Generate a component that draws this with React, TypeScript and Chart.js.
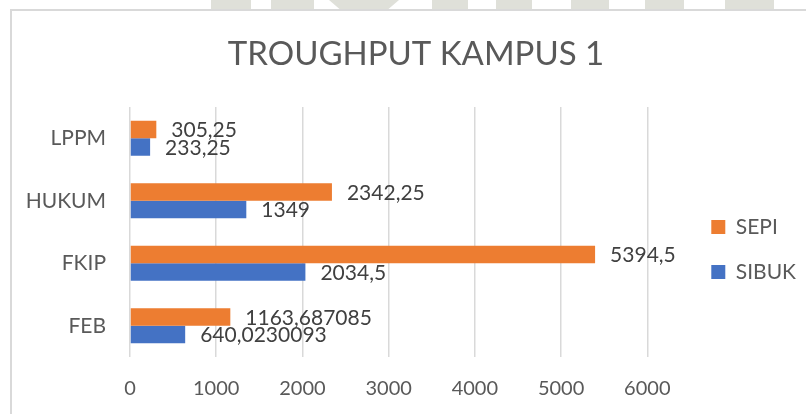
import React, { useEffect, useRef } from 'react';
import { Chart, registerables, layouts } from 'chart.js';

Chart.register(...registerables);

const titleText = 'TROUGHPUT KAMPUS 1';
const categories = ['LPPM', 'HUKUM', 'FKIP', 'FEB'];
const seriesNames = ['SEPI', 'SIBUK'];
const sepiValues = [305.25, 2342.25, 5394.5, 1163.687085];
const sibukValues = [233.25, 1349, 2034.5, 640.0230093];
const xTickValues = [0, 1000, 2000, 3000, 4000, 5000, 6000];

const ORANGE = '#ED7D31';
const BLUE = '#4472C4';
const TEXT = '#595959';
const FONT = 'Lato';

const formatValue = (v: number) => String(v).replace('.', ',');

const valueLabelPlugin = {
  id: 'valueLabels',
  afterDatasetsDraw(chart: any) {
    const ctx = chart.ctx;
    ctx.save();
    ctx.font = `21px ${FONT}`;
    ctx.fillStyle = '#404040';
    ctx.textAlign = 'left';
    ctx.textBaseline = 'middle';
    chart.data.datasets.forEach((ds: any, di: number) => {
      const meta = chart.getDatasetMeta(di);
      meta.data.forEach((bar: any, i: number) => {
        ctx.fillText(formatValue(ds.data[i]), bar.x + 15, bar.y + 1);
      });
    });
    ctx.restore();
  },
};

const legendGapPlugin = {
  id: 'legendGap',
  beforeInit(chart: any) {
    const gap: any = {
      position: 'right',
      weight: 500,
      fullSize: false,
      options: {},
      width: 0,
      height: 0,
      top: 0,
      left: 0,
      right: 0,
      bottom: 0,
      isHorizontal() {
        return false;
      },
      update(_maxWidth: number, maxHeight: number) {
        this.width = 40;
        this.height = maxHeight;
      },
      draw() {},
    };
    layouts.addBox(chart, gap);
  },
};

const watermark: Array<[number, number]> = [
  [211, 251],
  [271, 314],
  [432, 468],
  [496, 532],
  [571, 609],
  [645, 684],
  [725, 774],
];

export default function App() {
  const canvasRef = useRef<HTMLCanvasElement | null>(null);

  useEffect(() => {
    let chart: Chart | null = null;
    let cancelled = false;
    const make = () => {
      if (cancelled || !canvasRef.current) return;
      chart = new Chart(canvasRef.current, {
        type: 'bar',
        data: {
          labels: categories,
          datasets: [
            {
              label: seriesNames[0],
              data: sepiValues,
              backgroundColor: ORANGE,
              borderWidth: 0,
              categoryPercentage: 0.56,
              barPercentage: 1,
            },
            {
              label: seriesNames[1],
              data: sibukValues,
              backgroundColor: BLUE,
              borderWidth: 0,
              categoryPercentage: 0.56,
              barPercentage: 1,
            },
          ],
        },
        options: {
          indexAxis: 'y',
          responsive: false,
          animation: false,
          layout: { padding: { left: 26, right: 0, top: 0, bottom: 0 } },
          plugins: {
            title: {
              display: true,
              text: titleText,
              color: TEXT,
              font: { family: FONT, size: 33, weight: 'normal' },
              padding: { top: 34.6, bottom: 32.8 },
            },
            legend: {
              display: true,
              position: 'right',
              align: 'start',
              fullSize: false,
              title: {
                display: true,
                text: ' ',
                font: { family: FONT, size: 10 },
                padding: { top: 73.5, bottom: 0 },
              },
              labels: {
                boxWidth: 14,
                boxHeight: 14,
                padding: 24,
                color: TEXT,
                font: { family: FONT, size: 21 },
              },
            },
            tooltip: { enabled: false },
          },
          scales: {
            x: {
              type: 'linear',
              min: 0,
              max: 6000,
              afterBuildTicks: (scale: any) => {
                scale.ticks = xTickValues.map((v) => ({ value: v }));
              },
              afterFit: (scale: any) => {
                scale.height = 57;
              },
              grid: {
                color: '#d9d9d9',
                lineWidth: 1.5,
                drawTicks: false,
              },
              border: { display: false },
              ticks: {
                color: TEXT,
                font: { family: FONT, size: 20 },
                padding: 20,
                callback: (v: any) => String(v),
              },
            },
            y: {
              type: 'category',
              afterFit: (scale: any) => {
                scale.width = 104;
              },
              grid: { display: false, drawTicks: false },
              border: { display: false },
              ticks: {
                color: TEXT,
                font: { family: FONT, size: 21 },
                padding: 24,
              },
            },
          },
        },
        plugins: [valueLabelPlugin, legendGapPlugin],
      } as any);
    };
    const fontsReady = (document as any).fonts
      ? Promise.all([
          (document as any).fonts.load(`20px ${FONT}`),
          (document as any).fonts.load(`33px ${FONT}`),
        ]).catch(() => null)
      : Promise.resolve(null);
    fontsReady.then(make);
    return () => {
      cancelled = true;
      if (chart) chart.destroy();
    };
  }, []);

  return (
    <div
      style={{
        position: 'fixed',
        left: 0,
        top: 0,
        width: 806,
        height: 414,
        overflow: 'hidden',
        background: '#ffffff',
      }}
    >
      {watermark.map(([a, b], i) => (
        <div
          key={i}
          style={{
            position: 'absolute',
            left: a,
            top: 0,
            width: b - a,
            height: 9,
            background: '#dfe0d9',
          }}
        />
      ))}
      <div
        style={{
          position: 'absolute',
          left: 329,
          top: 0,
          width: 70,
          height: 9,
          background: '#dfe0d9',
          clipPath: 'polygon(0 0, 100% 0, 85% 100%, 15% 100%)',
        }}
      />
      <div
        style={{
          position: 'absolute',
          left: 10,
          top: 9,
          width: 900,
          height: 500,
          border: '2px solid #d9d9d9',
          boxSizing: 'border-box',
          background: '#ffffff',
        }}
      />
      <canvas
        ref={canvasRef}
        width={806}
        height={414}
        style={{ position: 'absolute', left: 0, top: 0 }}
      />
    </div>
  );
}
